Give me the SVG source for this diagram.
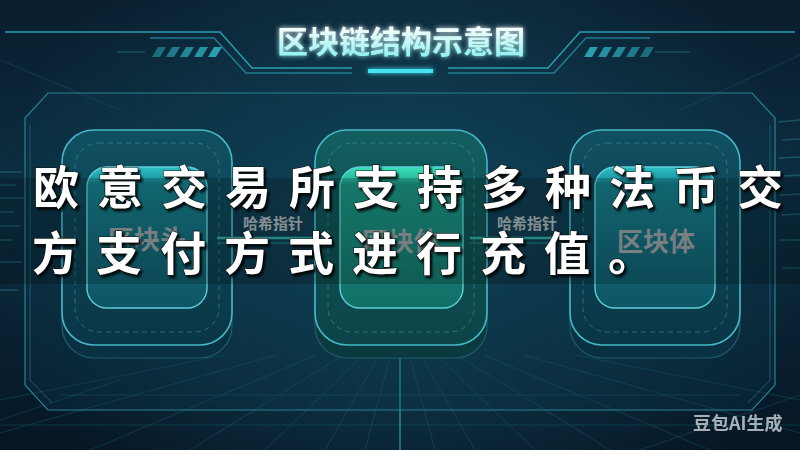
<svg xmlns="http://www.w3.org/2000/svg" width="800" height="450" viewBox="0 0 800 450">
<defs>
<linearGradient id="bg" x1="0" y1="0" x2="0" y2="1">
<stop offset="0" stop-color="#091d2d"/>
<stop offset="0.45" stop-color="#0c2f42"/>
<stop offset="1" stop-color="#061523"/>
</linearGradient>
<radialGradient id="glow" cx="400" cy="230" r="400" gradientUnits="userSpaceOnUse">
<stop offset="0" stop-color="#17596f" stop-opacity="0.55"/>
<stop offset="1" stop-color="#17596f" stop-opacity="0"/>
</radialGradient>
<linearGradient id="titleGrad" x1="0" y1="0" x2="0" y2="1">
<stop offset="0.2" stop-color="#ffffff"/>
<stop offset="1" stop-color="#7eeeee"/>
</linearGradient>
<linearGradient id="fadeL" x1="0" y1="0" x2="1" y2="0">
<stop offset="0" stop-color="#2a9cb0" stop-opacity="0"/>
<stop offset="0.4" stop-color="#2a9cb0" stop-opacity="0.9"/>
<stop offset="1" stop-color="#3ab8c8"/>
</linearGradient>
<linearGradient id="fadeR" x1="1" y1="0" x2="0" y2="0">
<stop offset="0" stop-color="#2a9cb0" stop-opacity="0"/>
<stop offset="0.4" stop-color="#2a9cb0" stop-opacity="0.9"/>
<stop offset="1" stop-color="#3ab8c8"/>
</linearGradient>
<linearGradient id="outerBlue" x1="0" y1="0" x2="0" y2="1">
<stop offset="0" stop-color="#105062"/>
<stop offset="1" stop-color="#0a3646"/>
</linearGradient>
<linearGradient id="innerBlue" x1="0" y1="0" x2="0" y2="1">
<stop offset="0" stop-color="#2cc0c6"/>
<stop offset="0.09" stop-color="#1c98a2"/>
<stop offset="0.12" stop-color="#167f8c"/>
<stop offset="1" stop-color="#0e5464"/>
</linearGradient>
<linearGradient id="outerGreen" x1="0" y1="0" x2="0" y2="1">
<stop offset="0" stop-color="#125e5e"/>
<stop offset="1" stop-color="#0c4448"/>
</linearGradient>
<linearGradient id="innerGreen" x1="0" y1="0" x2="0" y2="1">
<stop offset="0" stop-color="#3be2b8"/>
<stop offset="0.09" stop-color="#26b89c"/>
<stop offset="0.12" stop-color="#1c9684"/>
<stop offset="1" stop-color="#116e66"/>
</linearGradient>
<filter id="shadow" x="-10%" y="-20%" width="130%" height="150%">
<feDropShadow dx="2" dy="2.5" stdDeviation="1.2" flood-color="#000" flood-opacity="0.85"/>
</filter>
<filter id="glowF" x="-50%" y="-200%" width="200%" height="500%">
<feGaussianBlur stdDeviation="2.5" result="b"/>
<feMerge><feMergeNode in="b"/><feMergeNode in="SourceGraphic"/></feMerge>
</filter>
<clipPath id="floor"><rect x="0" y="355" width="800" height="95"/></clipPath>
<marker id="arrow" viewBox="0 0 10 10" refX="9" refY="5" markerWidth="10" markerHeight="10" markerUnits="userSpaceOnUse" orient="auto">
<path d="M0 0 L10 5 L0 10 z" fill="#35b5ad"/>
</marker>
<style>
.frame{fill:none;stroke:#2a9cb0;stroke-width:1.5}
.stripe{fill:#2aa5b5}
.grid{stroke:#1f8595;stroke-width:1;opacity:0.28}
.streak{stroke:#3aa0b0;stroke-width:1.5;opacity:0.35}
.base{stroke:#1d5e6c;stroke-width:1.2}
.outer{stroke:#46b8c8;stroke-width:1.6}
.dash{fill:none;stroke:#4fb0c0;stroke-width:1;stroke-dasharray:5 4;opacity:0.45}
.inner{stroke:#5ccfd8;stroke-width:1.4}
.label{font-family:"Noto Sans CJK SC","Noto Sans",sans-serif;font-weight:700;font-size:26px;fill:#959fa4;text-anchor:middle}
.edge{stroke:#2fa8a6;stroke-width:2.5;fill:none}
.edge2{stroke:#1f7c82;stroke-width:1.5;fill:none;opacity:0.8}
.edge-label{font-family:"Noto Sans CJK SC","Noto Sans",sans-serif;font-weight:700;font-size:15px;fill:#a7b3b7;text-anchor:middle}
.caption{font-family:"Noto Sans CJK SC","Noto Sans",sans-serif;font-size:46px;font-weight:700;fill:#ffffff;stroke:#111;stroke-width:1.2;paint-order:stroke;filter:url(#shadow)}
</style>
</defs>

<!-- background -->
<rect width="800" height="450" fill="url(#bg)"/>
<rect width="800" height="450" fill="url(#glow)"/>

<!-- side streaks -->
<g class="streak">
<line x1="0" y1="172" x2="22" y2="172"/><line x1="0" y1="185" x2="16" y2="185"/>
<line x1="0" y1="198" x2="24" y2="198"/><line x1="0" y1="212" x2="14" y2="212"/>
<line x1="0" y1="226" x2="20" y2="226"/><line x1="0" y1="240" x2="12" y2="240"/>
<line x1="0" y1="262" x2="22" y2="262"/><line x1="0" y1="290" x2="18" y2="290"/>
<line x1="778" y1="122" x2="800" y2="120"/><line x1="782" y1="140" x2="800" y2="139"/>
<line x1="779" y1="158" x2="800" y2="157"/><line x1="784" y1="176" x2="800" y2="175"/>
<line x1="780" y1="195" x2="800" y2="194"/><line x1="782" y1="215" x2="800" y2="214"/>
<line x1="779" y1="240" x2="800" y2="240"/><line x1="783" y1="268" x2="800" y2="268"/>
</g>
<g stroke="#2a8a9a" stroke-width="1" opacity="0.25">
<line x1="0" y1="60" x2="120" y2="110"/>
<line x1="680" y1="110" x2="800" y2="55"/>
<line x1="640" y1="450" x2="800" y2="395"/>
<line x1="0" y1="420" x2="120" y2="380"/>
</g>

<!-- floor grid -->
<g clip-path="url(#floor)">
<g class="grid">
<line x1="400" y1="320" x2="-250" y2="450"/><line x1="400" y1="320" x2="-60" y2="450"/>
<line x1="400" y1="320" x2="90" y2="450"/><line x1="400" y1="320" x2="190" y2="450"/>
<line x1="400" y1="320" x2="265" y2="450"/><line x1="400" y1="320" x2="325" y2="450"/>
<line x1="400" y1="320" x2="365" y2="450"/><line x1="400" y1="320" x2="435" y2="450"/>
<line x1="400" y1="320" x2="475" y2="450"/><line x1="400" y1="320" x2="535" y2="450"/>
<line x1="400" y1="320" x2="610" y2="450"/><line x1="400" y1="320" x2="710" y2="450"/>
<line x1="400" y1="320" x2="860" y2="450"/><line x1="400" y1="320" x2="1050" y2="450"/>
<line x1="0" y1="425" x2="800" y2="425"/>
<line x1="60" y1="395" x2="740" y2="395"/>
</g>
<line x1="400" y1="355" x2="400" y2="450" stroke="#3fd0e0" stroke-width="1.2" opacity="0.7"/>
</g>

<!-- main panel -->
<polygon points="48,93 752,93 775,118 775,385 752,410 48,410 25,385 25,118" fill="#0d3a4e" fill-opacity="0.25" stroke="#2a8090" stroke-width="1.2"/>
<polyline points="30,125 30,380 52,403" fill="none" stroke="#1f6a78" stroke-width="1" opacity="0.8"/>
<polyline points="770,125 770,380 748,403" fill="none" stroke="#1f6a78" stroke-width="1" opacity="0.8"/>

<!-- title frame -->
<g id="title-frame">
<path class="frame" d="M5 32 H220 L252 68 H352" stroke="url(#fadeL)"/>
<path class="frame" d="M150 38 H214 L246 73 H352" stroke-width="1" opacity="0.7"/>
<path class="frame" d="M795 32 H580 L548 68 H448" stroke="url(#fadeR)"/>
<path class="frame" d="M650 38 H586 L554 73 H448" stroke-width="1" opacity="0.7"/>
<line x1="117" y1="52" x2="145" y2="52" stroke="#2a8a9a" stroke-width="1" opacity="0.6"/>
<line x1="655" y1="52" x2="690" y2="52" stroke="#2a8a9a" stroke-width="1" opacity="0.6"/>
<g class="stripe">
<polygon points="152,57 160,57 166,47 158,47" opacity="0.55"/>
<polygon points="166,57 174,57 180,47 172,47" opacity="0.65"/>
<polygon points="180,57 188,57 194,47 186,47" opacity="0.75"/>
<polygon points="194,57 202,57 208,47 200,47" opacity="0.85"/>
<polygon points="208,57 216,57 222,47 214,47" opacity="0.95"/>
<polygon points="584,57 592,57 598,47 590,47" opacity="0.95"/>
<polygon points="598,57 606,57 612,47 604,47" opacity="0.85"/>
<polygon points="612,57 620,57 626,47 618,47" opacity="0.75"/>
<polygon points="626,57 634,57 640,47 632,47" opacity="0.65"/>
<polygon points="640,57 648,57 654,47 646,47" opacity="0.55"/>
</g>
<rect x="368" y="69" width="65" height="4" fill="#45e4f2" filter="url(#glowF)"/>
<text x="401" y="53" font-family="'Noto Sans CJK SC','Noto Sans',sans-serif" font-size="31" font-weight="700" fill="url(#titleGrad)" text-anchor="middle" filter="url(#glowF)">区块链结构示意图</text>
</g>

<!-- nodes -->
<g id="block-header">
<rect class="base" x="62" y="143" width="170" height="215" rx="32" fill="#0a3142"/>
<rect class="outer" x="62" y="130" width="170" height="215" rx="32" fill="url(#outerBlue)"/>
<rect class="dash" x="75" y="143" width="144" height="189" rx="24"/>
<rect class="inner" x="87" y="167" width="120" height="141" rx="20" fill="url(#innerBlue)"/>
<text class="label" x="147" y="249">区块头</text>
</g>
<g id="block-body-1">
<rect class="base" x="315" y="143" width="172" height="215" rx="32" fill="#0b3a3e"/>
<rect class="outer" x="315" y="130" width="172" height="215" rx="32" fill="url(#outerGreen)" stroke="#4cc6bc"/>
<rect class="dash" x="328" y="143" width="146" height="189" rx="24"/>
<rect class="inner" x="340" y="167" width="123" height="141" rx="20" fill="url(#innerGreen)" stroke="#5fdcc4"/>
<text class="label" x="401" y="251">区块体</text>
</g>
<g id="block-body-2">
<rect class="base" x="570" y="143" width="170" height="215" rx="32" fill="#0a3142"/>
<rect class="outer" x="570" y="130" width="170" height="215" rx="32" fill="url(#outerBlue)"/>
<rect class="dash" x="583" y="143" width="144" height="189" rx="24"/>
<rect class="inner" x="595" y="167" width="120" height="141" rx="20" fill="url(#innerBlue)"/>
<text class="label" x="656" y="251">区块体</text>
</g>

<!-- connectors -->
<g id="connectors">
<line class="edge2" x1="217" y1="243" x2="322" y2="243"/>
<line class="edge" x1="217" y1="238" x2="328" y2="238" marker-end="url(#arrow)"/>
<text class="edge-label" x="273" y="229">哈希指针</text>
<line class="edge2" x1="470" y1="243" x2="575" y2="243"/>
<line class="edge" x1="470" y1="238" x2="581" y2="238" marker-end="url(#arrow)"/>
<text class="edge-label" x="527" y="229">哈希指针</text>
</g>

<!-- caption overlay -->
<rect x="0" y="178" width="800" height="106" fill="#000" opacity="0.2"/>
<text class="caption" x="33 97 161 225 289 353 417 481 545 609 673 737" y="204">欧意交易所支持多种法币交</text>
<text class="caption" x="32 96 160 224 288 352 416 480 544 608" y="270">方支付方式进行充值。</text>

<!-- watermark -->
<text x="693" y="430" font-family="'Noto Sans CJK SC','Noto Sans',sans-serif" font-size="18" font-weight="700" fill="#c3c9ce" opacity="0.85">豆包AI生成</text>
</svg>
